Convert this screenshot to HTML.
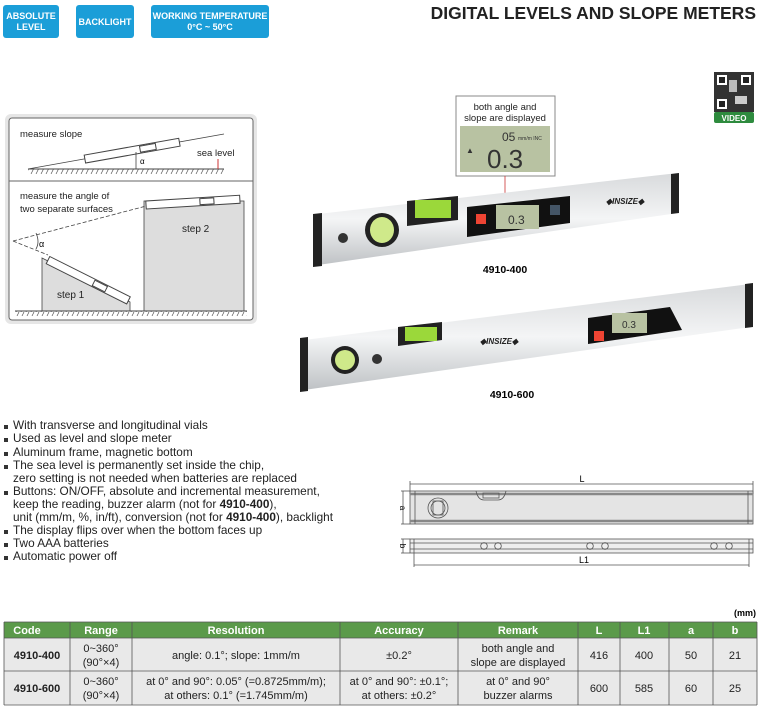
<!DOCTYPE html>
<html><head><meta charset="utf-8"><style>
body{margin:0;background:#fff;width:760px;height:708px;overflow:hidden;font-family:"Liberation Sans",sans-serif}
svg text{font-family:"Liberation Sans",sans-serif}
</style></head><body>
<svg width="760" height="708" viewBox="0 0 760 708" xmlns="http://www.w3.org/2000/svg">
<defs>
<linearGradient id="al" x1="0" y1="0" x2="0" y2="1"><stop offset="0" stop-color="#d8dadc"/><stop offset=".5" stop-color="#f4f5f6"/><stop offset="1" stop-color="#bfc2c5"/></linearGradient>
<pattern id="hatch" width="5" height="6" patternUnits="userSpaceOnUse"><line x1="4" y1="0" x2="1" y2="6" stroke="#555" stroke-width=".7"/></pattern>
</defs>
<!-- badges -->
<rect x="3" y="5" width="56" height="33" rx="3" fill="#1b9ed8"/>
<text x="31" y="19" fill="#fff" font-size="9" font-weight="bold" text-anchor="middle">ABSOLUTE</text>
<text x="31" y="30" fill="#fff" font-size="9" font-weight="bold" text-anchor="middle">LEVEL</text>
<rect x="76" y="5" width="58" height="33" rx="3" fill="#1b9ed8"/>
<text x="105" y="25" fill="#fff" font-size="9" font-weight="bold" text-anchor="middle">BACKLIGHT</text>
<rect x="151" y="5" width="118" height="33" rx="3" fill="#1b9ed8"/>
<text x="210" y="19" fill="#fff" font-size="9" font-weight="bold" text-anchor="middle">WORKING TEMPERATURE</text>
<text x="210" y="30" fill="#fff" font-size="9" font-weight="bold" text-anchor="middle">0°C ~ 50°C</text>
<text x="756" y="19" font-size="17.5" font-weight="bold" text-anchor="end" fill="#222">DIGITAL LEVELS AND SLOPE METERS</text>
<!-- QR -->
<rect x="714" y="72" width="40" height="40" fill="#333"/>
<rect x="717" y="75" width="10" height="10" fill="#fff"/><rect x="719" y="77" width="6" height="6" fill="#222"/>
<rect x="741" y="75" width="10" height="10" fill="#fff"/><rect x="743" y="77" width="6" height="6" fill="#222"/>
<rect x="717" y="99" width="10" height="10" fill="#fff"/><rect x="719" y="101" width="6" height="6" fill="#222"/>
<rect x="729" y="80" width="8" height="12" fill="#bbb"/><rect x="735" y="96" width="12" height="8" fill="#ccc"/>
<rect x="714" y="112" width="40" height="11" rx="2" fill="#2e8b3e"/>
<text x="734" y="121" fill="#fff" font-size="8" font-weight="bold" text-anchor="middle">VIDEO</text>
<!-- left diagram -->
<rect x="5" y="114" width="252" height="210" rx="6" fill="#e6e6e6"/>
<rect x="9" y="118" width="244" height="202" rx="3" fill="#fff" stroke="#666"/>
<line x1="9" y1="181" x2="253" y2="181" stroke="#666"/>
<text x="20" y="137" font-size="9.5" fill="#222">measure slope</text>
<line x1="28" y1="169" x2="224" y2="134" stroke="#444" stroke-width=".8"/>
<rect x="28" y="169" width="196" height="5" fill="url(#hatch)"/>
<line x1="28" y1="169" x2="224" y2="169" stroke="#444"/>
<g transform="rotate(-10.1 130 150)"><rect x="84" y="147" width="96" height="8" fill="#fff" stroke="#444"/><rect x="140" y="148" width="16" height="6" fill="none" stroke="#444"/></g>
<line x1="136" y1="169" x2="136" y2="152" stroke="#444" stroke-width=".8"/>
<text x="140" y="164" font-size="8">α</text>
<text x="197" y="156" font-size="9.5" fill="#222">sea level</text>
<line x1="218" y1="159" x2="218" y2="169" stroke="#c33"/>
<text x="20" y="199" font-size="9.5" fill="#222">measure the angle of</text>
<text x="20" y="212" font-size="9.5" fill="#222">two separate surfaces</text>
<polygon points="42,258 130,302 130,311 42,311" fill="#ddd" stroke="#444" stroke-width=".8"/>
<rect x="144" y="201" width="100" height="110" fill="#ddd" stroke="#444" stroke-width=".8"/>
<rect x="15" y="311" width="232" height="5" fill="url(#hatch)"/>
<line x1="15" y1="311" x2="247" y2="311" stroke="#444"/>
<line x1="13" y1="241" x2="150" y2="205" stroke="#444" stroke-dasharray="4,2" stroke-width=".8"/>
<line x1="13" y1="241" x2="48" y2="255" stroke="#444" stroke-dasharray="4,2" stroke-width=".8"/>
<path d="M36 233 Q40 242 36 249" fill="none" stroke="#444" stroke-width=".8"/>
<text x="39" y="247" font-size="9">α</text>
<g transform="rotate(26.6 86 278)"><rect x="44" y="275" width="90" height="8" fill="#fff" stroke="#444"/><rect x="95" y="276" width="14" height="6" fill="none" stroke="#444"/></g>
<g transform="rotate(-3.5 195 203)"><rect x="146" y="198" width="94" height="8" fill="#fff" stroke="#444"/><rect x="200" y="199" width="14" height="6" fill="none" stroke="#444"/></g>
<text x="182" y="232" font-size="10" fill="#222">step 2</text>
<text x="57" y="298" font-size="10" fill="#222">step 1</text>
<!-- callout -->
<rect x="456" y="96" width="99" height="80" fill="#fff" stroke="#888"/>
<text x="505" y="110" font-size="9.5" text-anchor="middle" fill="#222">both angle and</text>
<text x="505" y="121" font-size="9.5" text-anchor="middle" fill="#222">slope are displayed</text>
<rect x="460" y="126" width="90" height="46" fill="#b8c2a2"/>
<text x="502" y="141" font-size="12" fill="#333">05</text><text x="518" y="140" font-size="5" fill="#333">mm/m INC</text>
<text x="487" y="168" font-size="26" fill="#333">0.3</text>
<text x="466" y="153" font-size="8" fill="#333">▲</text>
<line x1="505" y1="176" x2="505" y2="210" stroke="#c33" stroke-width=".8"/>
<!-- level 4910-400 -->
<polygon points="318,214 678,173 678,213 318,265" fill="url(#al)"/>
<polygon points="313,214 322,213 322,266 313,267" fill="#222"/>
<polygon points="671,174 679,173 679,213 671,214" fill="#222"/>
<polygon points="407,201 458,196 458,220 407,226" fill="#222"/>
<rect x="415" y="200" width="36" height="18" fill="#9bd83a"/>
<ellipse cx="382" cy="230" rx="17" ry="17" fill="#222"/><ellipse cx="382" cy="230" rx="12" ry="13" fill="#cfe98a"/>
<circle cx="343" cy="238" r="5" fill="#333"/>
<polygon points="467,207 570,196 570,223 467,237" fill="#111"/>
<rect x="476" y="214" width="10" height="10" fill="#e43"/>
<rect x="496" y="205" width="43" height="24" fill="#b8c2a2"/>
<text x="508" y="224" font-size="12" fill="#333">0.3</text>
<rect x="550" y="205" width="10" height="10" fill="#456"/>
<text x="606" y="204" font-size="8" font-weight="bold" font-style="italic" fill="#222">◆INSIZE◆</text>
<text x="505" y="273" font-size="10.5" font-weight="bold" text-anchor="middle">4910-400</text>
<!-- level 4910-600 -->
<polygon points="304,340 750,284 750,327 304,390" fill="url(#al)"/>
<polygon points="300,338 308,337 308,391 300,392" fill="#222"/>
<polygon points="745,284 753,283 753,327 745,328" fill="#222"/>
<polygon points="398,327 442,322 442,340 398,346" fill="#222"/>
<rect x="405" y="327" width="32" height="14" fill="#9bd83a"/>
<ellipse cx="345" cy="360" rx="14" ry="14" fill="#222"/><ellipse cx="345" cy="360" rx="10" ry="10" fill="#cfe98a"/>
<circle cx="377" cy="359" r="5" fill="#333"/>
<polygon points="588,318 670,307 682,330 588,344" fill="#111"/>
<rect x="594" y="331" width="10" height="10" fill="#e43"/>
<rect x="612" y="313" width="35" height="20" fill="#b8c2a2"/>
<text x="622" y="328" font-size="10" fill="#333">0.3</text>
<text x="480" y="344" font-size="8" font-weight="bold" font-style="italic" fill="#222">◆INSIZE◆</text>
<text x="512" y="398" font-size="10.5" font-weight="bold" text-anchor="middle">4910-600</text>
<!-- bullets -->
<g font-size="11.8" fill="#222">
<text x="13" y="429">With transverse and longitudinal vials</text>
<text x="13" y="442">Used as level and slope meter</text>
<text x="13" y="456">Aluminum frame, magnetic bottom</text>
<text x="13" y="469">The sea level is permanently set inside the chip,</text>
<text x="13" y="482">zero setting is not needed when batteries are replaced</text>
<text x="13" y="495">Buttons: ON/OFF, absolute and incremental measurement,</text>
<text x="13" y="508">keep the reading, buzzer alarm (not for <tspan font-weight="bold">4910-400</tspan>),</text>
<text x="13" y="521">unit (mm/m, %, in/ft), conversion (not for <tspan font-weight="bold">4910-400</tspan>), backlight</text>
<text x="13" y="534">The display flips over when the bottom faces up</text>
<text x="13" y="547">Two AAA batteries</text>
<text x="13" y="560">Automatic power off</text>
</g>
<g fill="#333"><rect x="4" y="425" width="4" height="4"/><rect x="4" y="438" width="4" height="4"/><rect x="4" y="452" width="4" height="4"/><rect x="4" y="465" width="4" height="4"/><rect x="4" y="491" width="4" height="4"/><rect x="4" y="530" width="4" height="4"/><rect x="4" y="543" width="4" height="4"/><rect x="4" y="556" width="4" height="4"/></g>
<!-- technical drawing -->
<g stroke="#555" fill="none" stroke-width=".8">
<line x1="410" y1="484" x2="753" y2="484"/><line x1="410" y1="481" x2="410" y2="494"/><line x1="753" y1="481" x2="753" y2="494"/>
<rect x="410" y="491" width="343" height="33" fill="#e4e4e4"/>
<line x1="410" y1="494" x2="753" y2="494" stroke-width="2.5" stroke="#888"/>
<line x1="410" y1="521" x2="753" y2="521" stroke-width="2.5" stroke="#888"/>
<line x1="415" y1="491" x2="415" y2="524"/><line x1="748" y1="491" x2="748" y2="524"/>
<path d="M476 491 q2 9 8 9 h14 q6 0 8 -9"/><rect x="483" y="493" width="16" height="5"/>
<circle cx="438" cy="508" r="10"/><circle cx="438" cy="508" r="7"/><rect x="433" y="501" width="10" height="14"/>
<line x1="401" y1="491" x2="410" y2="491"/><line x1="401" y1="524" x2="410" y2="524"/><line x1="403" y1="491" x2="403" y2="524"/>
<rect x="410" y="539" width="343" height="14" fill="#eee"/>
<line x1="410" y1="543" x2="753" y2="543"/><line x1="410" y1="549" x2="753" y2="549"/>
<line x1="414" y1="539" x2="414" y2="553"/><line x1="749" y1="539" x2="749" y2="553"/>
<circle cx="484" cy="546" r="3.3"/><circle cx="498" cy="546" r="3.3"/><circle cx="590" cy="546" r="3.3"/><circle cx="605" cy="546" r="3.3"/><circle cx="714" cy="546" r="3.3"/><circle cx="729" cy="546" r="3.3"/>
<line x1="401" y1="539" x2="410" y2="539"/><line x1="401" y1="553" x2="410" y2="553"/><line x1="403" y1="539" x2="403" y2="553"/>
<line x1="414" y1="565" x2="749" y2="565"/><line x1="414" y1="553" x2="414" y2="567"/><line x1="749" y1="553" x2="749" y2="567"/>
</g>
<text x="582" y="482" font-size="9" text-anchor="middle">L</text>
<text x="584" y="563" font-size="9" text-anchor="middle">L1</text>
<text x="400" y="508" font-size="8" transform="rotate(90 400 508)" text-anchor="middle">a</text>
<text x="400" y="546" font-size="8" transform="rotate(90 400 546)" text-anchor="middle">b</text>
<!-- table -->
<text x="756" y="616" font-size="9" font-weight="bold" text-anchor="end">(mm)</text>
<rect x="4" y="622" width="753" height="16" fill="#5b9a4a"/>
<rect x="4" y="638" width="753" height="67" fill="#e9e9e9"/>
<g stroke="#555" stroke-width=".8">
<line x1="4" y1="622" x2="757" y2="622"/><line x1="4" y1="638" x2="757" y2="638"/><line x1="4" y1="671" x2="757" y2="671"/><line x1="4" y1="705" x2="757" y2="705"/>
<line x1="4" y1="622" x2="4" y2="705"/><line x1="70" y1="622" x2="70" y2="705"/><line x1="132" y1="622" x2="132" y2="705"/><line x1="340" y1="622" x2="340" y2="705"/><line x1="458" y1="622" x2="458" y2="705"/><line x1="578" y1="622" x2="578" y2="705"/><line x1="620" y1="622" x2="620" y2="705"/><line x1="669" y1="622" x2="669" y2="705"/><line x1="713" y1="622" x2="713" y2="705"/><line x1="757" y1="622" x2="757" y2="705"/>
</g>
<g font-size="11" font-weight="bold" fill="#fff" text-anchor="middle">
<text x="27" y="634">Code</text><text x="101" y="634">Range</text><text x="236" y="634">Resolution</text><text x="399" y="634">Accuracy</text><text x="518" y="634">Remark</text><text x="599" y="634">L</text><text x="644" y="634">L1</text><text x="691" y="634">a</text><text x="735" y="634">b</text>
</g>
<g font-size="11" fill="#222" text-anchor="middle">
<text x="37" y="659" font-weight="bold">4910-400</text>
<text x="101" y="652">0~360°</text><text x="101" y="666">(90°×4)</text>
<text x="236" y="659">angle: 0.1°;  slope: 1mm/m</text>
<text x="399" y="659">±0.2°</text>
<text x="518" y="652">both angle and</text><text x="518" y="666">slope are displayed</text>
<text x="599" y="659">416</text><text x="644" y="659">400</text><text x="691" y="659">50</text><text x="735" y="659">21</text>
<text x="37" y="692" font-weight="bold">4910-600</text>
<text x="101" y="685">0~360°</text><text x="101" y="699">(90°×4)</text>
<text x="236" y="685">at 0° and 90°: 0.05° (=0.8725mm/m);</text><text x="236" y="699">at others: 0.1° (=1.745mm/m)</text>
<text x="399" y="685">at 0° and 90°: ±0.1°;</text><text x="399" y="699">at others: ±0.2°</text>
<text x="518" y="685">at 0° and 90°</text><text x="518" y="699">buzzer alarms</text>
<text x="599" y="692">600</text><text x="644" y="692">585</text><text x="691" y="692">60</text><text x="735" y="692">25</text>
</g>
</svg>
</body></html>
